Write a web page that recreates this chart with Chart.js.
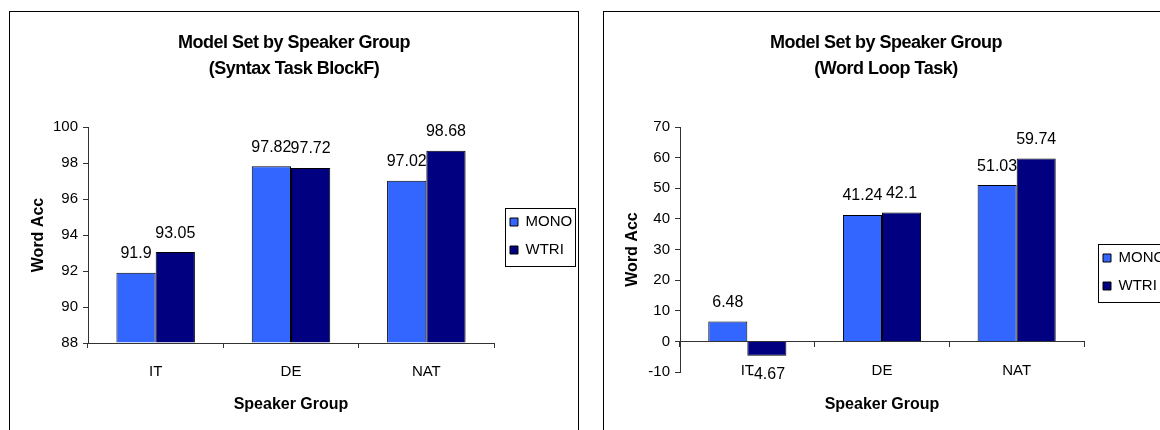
<!DOCTYPE html>
<html>
<head>
<meta charset="utf-8">
<script src="https://cdn.jsdelivr.net/npm/chart.js@4.4.1/dist/chart.umd.min.js"></script>
<style>
  html, body { margin: 0; padding: 0; background: #fff; width: 1160px; height: 430px; overflow: hidden; }
  .panel { position: absolute; top: 11px; width: 570px; height: 440px; border: 1px solid #000; box-sizing: border-box; background: #fff; }
  #p1 { left: 9px; }
  #p2 { left: 603px; }
  canvas { display: block; }
</style>
</head>
<body>
<div class="panel" id="p1"><canvas id="c1" width="568" height="418"></canvas></div>
<div class="panel" id="p2"><canvas id="c2" width="568" height="418"></canvas></div>
<script>
// Speaker groups on the category axis and the two model sets
const groups = ['IT', 'DE', 'NAT'];
const seriesNames = ['MONO', 'WTRI'];

// Syntax task (block F) word accuracy
const syntaxMono = [91.9, 97.82, 97.02];
const syntaxWtri = [93.05, 97.72, 98.68];
const syntaxTicks = [88, 90, 92, 94, 96, 98, 100];

// Word loop task word accuracy
const loopMono = [6.48, 41.24, 51.03];
const loopWtri = [-4.67, 42.1, 59.74];
const loopTicks = [-10, 0, 10, 20, 30, 40, 50, 60, 70];

const FONT = "'Liberation Sans', Arial, Helvetica, sans-serif";
const MONO_COLOR = '#3366FF';
const WTRI_COLOR = '#000080';
const AXIS_COLOR = '#333333';

Chart.defaults.font.family = FONT;
Chart.defaults.color = '#000';

// Value printed just beyond the end of every bar
const valueLabels = {
  id: 'valueLabels',
  afterDatasetsDraw(chart) {
    const ctx = chart.ctx;
    ctx.save();
    ctx.font = '16px ' + FONT;
    ctx.fillStyle = '#000';
    ctx.textAlign = 'center';
    ctx.textBaseline = 'middle';
    chart.data.datasets.forEach((ds, di) => {
      chart.getDatasetMeta(di).data.forEach((bar, i) => {
        const v = ds.data[i];
        const y = v >= 0 ? bar.y - 19 : bar.y + 19;
        ctx.fillText(String(v), bar.x, y);
      });
    });
    ctx.restore();
  }
};

// Places the legend beside the plot and draws its framing box
const legendFrame = {
  id: 'legendFrame',
  afterInit(chart) {
    const tb = chart.titleBlock;
    if (tb) {
      const draw = tb.draw.bind(tb);
      tb.draw = function (area) {
        const ctx = chart.ctx;
        const prev = ctx.letterSpacing;
        ctx.letterSpacing = '-0.5px';
        draw(area);
        ctx.letterSpacing = prev;
      };
    }
  },
  afterLayout(chart, args, opts) {
    const lg = chart.legend;
    const pad = lg.options.labels.padding;
    const itemH = lg.options.labels.font.size;
    lg.left = opts.x - pad;
    lg.right = lg.left + lg.width;
    lg.top = opts.y - itemH / 2 - pad;
    lg.bottom = lg.top + lg.height;
  },
  afterDraw(chart) {
    const hb = chart.legend.legendHitBoxes;
    if (!hb || !hb.length) return;
    const ctx = chart.ctx;
    let right = 0;
    hb.forEach(b => { right = Math.max(right, b.left + b.width); });
    const first = hb[0], last = hb[hb.length - 1];
    const x0 = Math.round(first.left) - 5 + 0.5;
    const x1 = Math.round(right) + 3 + 0.5;
    const y0 = Math.round(first.top + first.height / 2) - 14 + 0.5;
    const y1 = Math.round(last.top + last.height / 2) + 16 + 0.5;
    ctx.save();
    ctx.strokeStyle = '#000';
    ctx.lineWidth = 1;
    ctx.strokeRect(x0, y0, x1 - x0, y1 - y0);
    ctx.restore();
  }
};

function makeChart(id, titleLines, mono, wtri, ticks, cfg) {
  return new Chart(document.getElementById(id), {
    type: 'bar',
    data: {
      labels: groups,
      datasets: [
        { label: seriesNames[0], data: mono, backgroundColor: MONO_COLOR, borderColor: '#000', borderWidth: 1, xAxisID: 'x', yAxisID: 'y' },
        { label: seriesNames[1], data: wtri, backgroundColor: WTRI_COLOR, borderColor: '#000', borderWidth: 1, xAxisID: 'x', yAxisID: 'y' }
      ]
    },
    options: {
      responsive: false,
      animation: false,
      events: [],
      layout: { padding: { left: 0, top: 0, bottom: 0, right: cfg.padRight } },
      datasets: { bar: { categoryPercentage: 0.58, barPercentage: 1, base: Math.max(ticks[0], 0) } },
      plugins: {
        title: {
          display: true,
          text: titleLines,
          color: '#000',
          font: { size: 18, weight: 'bold', lineHeight: 1.45 },
          padding: { top: 18.35, bottom: 44.45 }
        },
        legend: {
          display: true,
          position: 'right',
          align: 'start',
          maxWidth: 84,
          labels: { boxWidth: 8, boxHeight: 8, padding: 13, color: '#000', font: { size: 15 } }
        },
        tooltip: { enabled: false },
        legendFrame: { x: cfg.legendX, y: cfg.legendY }
      },
      scales: {
        x: {
          type: 'category',
          position: cfg.xPosition,
          offset: true,
          grid: { display: true, offset: true, drawOnChartArea: false, drawTicks: true, tickLength: 5, color: AXIS_COLOR },
          border: { display: true, color: AXIS_COLOR, width: 1 },
          ticks: { color: '#000', font: { size: 15 }, padding: 15, maxRotation: 0, autoSkip: false },
          afterFit: s => { if (cfg.xPosition === 'bottom') s.height = 36; }
        },
        x2: {
          type: 'category',
          position: 'bottom',
          weight: 1,
          grid: { display: false, drawTicks: false },
          border: { display: false },
          ticks: { display: false },
          title: { display: true, text: 'Speaker Group', color: '#000', font: { size: 16, weight: 'bold' }, padding: { top: 0, bottom: cfg.x2Pad } },
          afterFit: s => { s.height = cfg.x2Height; }
        },
        y: {
          type: 'linear',
          position: 'left',
          min: ticks[0],
          max: ticks[ticks.length - 1],
          afterBuildTicks: s => { s.ticks = ticks.map(v => ({ value: v })); },
          grid: { drawOnChartArea: false, drawTicks: true, tickLength: 5, color: AXIS_COLOR },
          border: { display: true, color: AXIS_COLOR, width: 1 },
          ticks: { color: '#000', font: { size: 15 }, padding: 5 },
          title: { display: true, text: 'Word Acc', color: '#000', font: { size: 16, weight: 'bold' }, padding: { top: 19, bottom: 0 } },
          afterFit: s => { s.width = cfg.yWidth; }
        }
      }
    },
    plugins: [valueLabels, legendFrame]
  });
}

makeChart('c1', ['Model Set by Speaker Group', '(Syntax Task BlockF)'], syntaxMono, syntaxWtri, syntaxTicks, {
  xPosition: 'bottom', x2Height: 51, x2Pad: 15.4, yWidth: 78, padRight: 0, legendX: 500, legendY: 210
});

makeChart('c2', ['Model Set by Speaker Group', '(Word Loop Task)'], loopMono, loopWtri, loopTicks, {
  xPosition: { y: 0 }, x2Height: 58, x2Pad: 16, yWidth: 76, padRight: 4, legendX: 499, legendY: 246
});
</script>
</body>
</html>
